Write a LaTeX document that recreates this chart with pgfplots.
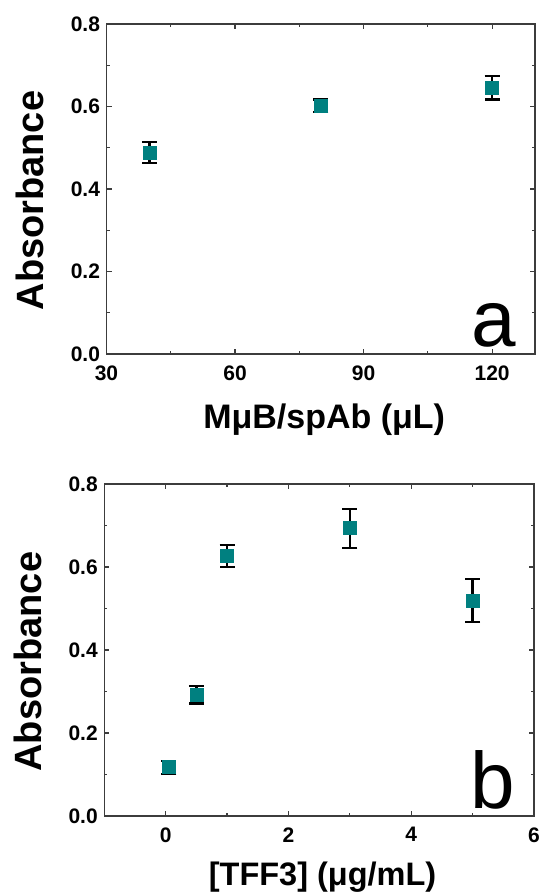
\documentclass[border=0pt]{standalone}
\usepackage{pgfplots}
\pgfplotsset{compat=1.18}
\usepackage{fontspec}
\setmainfont{Liberation Sans}
\definecolor{teal1}{RGB}{0,128,128}
\definecolor{axgray}{RGB}{60,60,60}
\pgfplotsset{
  myaxis/.style={
    scale only axis,
    axis line style={axgray, line width=1.2pt},
    tick style={axgray, line width=1.2pt},
    major tick length=5pt, minor tick length=3pt,
    tick align=inside,
    tick pos=both,
    ymin=0, ymax=0.8, ytick={0,0.2,0.4,0.6,0.8}, minor ytick={0.1,0.3,0.5,0.7},
    /pgf/number format/assume math mode=true,
    yticklabel style={xshift=-3pt, /pgf/number format/.cd, fixed, fixed zerofill, precision=1},
    xticklabel style={yshift=-8pt},
    tick label style={font=\fontsize{21}{25}\selectfont\bfseries},
    ylabel={Absorbance},
    ylabel style={at={(axis description cs:-0.178,0.465)}, anchor=center, font=\fontsize{38}{44}\selectfont\bfseries},
    xlabel style={at={(axis description cs:0.508,0)}, anchor=base},
    error bars/y dir=both, error bars/y explicit,
    error bars/error bar style={line width=2.3pt, black},
    error bars/error mark options={rotate=90, mark size=7.5pt, line width=2.3pt, black},
  },
  mypts/.style={only marks, mark=square*, mark size=6.5pt, mark options={fill=teal1, draw=teal1}},
}
\begin{document}
\begin{tikzpicture}
\useasboundingbox (0pt,0pt) rectangle (540pt,-895pt);
\begin{axis}[myaxis,
  at={(106.5pt,-354pt)}, anchor=south west, width=428.5pt, height=330pt,
  xmin=30, xmax=130, xtick={30,60,90,120}, minor xtick={45,75,105},
  xlabel={MμB/spAb (μL)},
  xlabel style={yshift=-74pt, font=\fontsize{34}{40}\selectfont\bfseries},
]
\addplot+[mypts] table[x=x, y=y, y error plus=ep, y error minus=em] {
x y ep em
40 0.489 0.025 0.026
80 0.603 0.014 0.016
120 0.645 0.029 0.028
};
\node[anchor=base east, font=\fontsize{80}{80}\selectfont] at (rel axis cs:0.963,0.024) {a};
\end{axis}
\begin{axis}[myaxis,
  at={(104.3pt,-816pt)}, anchor=south west, width=429.7pt, height=332pt,
  xmin=-1, xmax=6, xtick={0,2,4,6}, minor xtick={-1,1,3,5},
  xlabel={[TFF3] (μg/mL)},
  xlabel style={yshift=-69pt, font=\fontsize{32.5}{38}\selectfont\bfseries},
]
\addplot+[mypts] table[x=x, y=y, y error plus=ep, y error minus=em] {
x y ep em
0.05 0.118 0.015 0.016
0.5 0.293 0.021 0.022
1 0.627 0.026 0.027
3 0.694 0.046 0.049
5 0.518 0.053 0.051
};
\node[anchor=base east, font=\fontsize{80}{80}\selectfont] at (rel axis cs:0.964,0.024) {b};
\end{axis}
\end{tikzpicture}
\end{document}
